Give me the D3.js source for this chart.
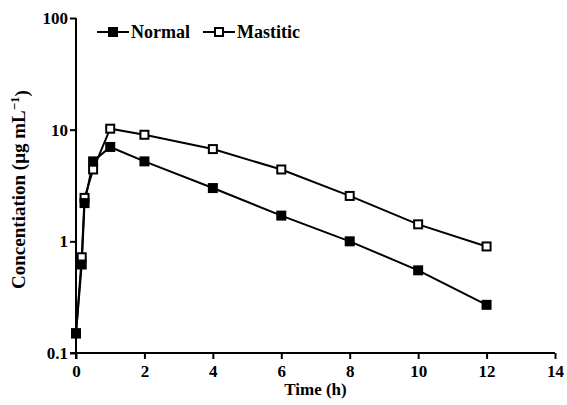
<!DOCTYPE html>
<html>
<head>
<meta charset="utf-8">
<script src="https://cdn.jsdelivr.net/npm/d3@7"></script>
<style>
  body { margin: 0; background: #fff; }
  text { font-family: "Liberation Serif", "Times New Roman", serif; font-weight: bold; }
</style>
</head>
<body>
<div id="chart"></div>
<script>
// values
var times = [0, 0.167, 0.25, 0.5, 1, 2, 4, 6, 8, 10, 12];
var normal = [0.15, 0.62, 2.2, 5.2, 7.0, 5.2, 3.0, 1.7, 1.0, 0.55, 0.27];
var mastitic = [0.15, 0.72, 2.45, 4.4, 10.2, 9.0, 6.7, 4.4, 2.55, 1.42, 0.9];
var xTicks = [0, 2, 4, 6, 8, 10, 12, 14];
var yTicks = [0.1, 1, 10, 100];
var seriesNames = ["Normal", "Mastitic"];

var width = 567, height = 405;
var margin = { top: 18, right: 12, bottom: 52, left: 76 };

var svg = d3.select("#chart")
  .append("svg")
  .attr("width", width)
  .attr("height", height);

var x = d3.scaleLinear()
  .domain([0, 14])
  .range([margin.left, width - margin.right]);

var y = d3.scaleLog()
  .domain([0.1, 100])
  .range([height - margin.bottom, margin.top]);

// axes
var xAxis = svg.append("g")
  .attr("transform", "translate(0," + (height - margin.bottom) + ")")
  .call(d3.axisBottom(x).tickValues(xTicks).tickFormat(d3.format("d")).tickSize(6).tickSizeOuter(0));

var yAxis = svg.append("g")
  .attr("transform", "translate(" + margin.left + ",0)")
  .call(d3.axisLeft(y).tickValues(yTicks).tickFormat(function (d) { return d < 1 ? "0.1" : d3.format("d")(d); }).tickSize(6).tickSizeOuter(0));

[xAxis, yAxis].forEach(function (g) {
  g.select(".domain").attr("stroke", "#000").attr("stroke-width", 2);
  g.selectAll(".tick line").attr("stroke", "#000").attr("stroke-width", 2);
  g.selectAll(".tick text").attr("fill", "#000").style("font-size", "17px")
    .style("font-family", "'Liberation Serif', serif").style("font-weight", "bold");
});
xAxis.selectAll(".tick text").attr("dy", "0.9em");
yAxis.selectAll(".tick text").attr("x", -8);
// y axis line extends slightly below x axis
yAxis.select(".domain").attr("d", "M0," + (height - margin.bottom + 6) + "V" + margin.top);
xAxis.select(".domain").attr("d", "M" + (margin.left - 6) + ",0H" + (width - margin.right));

// axis titles
svg.append("text")
  .attr("x", (margin.left + width - margin.right) / 2)
  .attr("y", height - 10)
  .attr("text-anchor", "middle")
  .style("font-size", "17px")
  .text("Time (h)");

var yl = svg.append("text")
  .attr("transform", "translate(25," + ((margin.top + height - margin.bottom) / 2 + 4) + ") rotate(-90)")
  .attr("text-anchor", "middle")
  .style("font-size", "19px");
yl.append("tspan").text("Concentiation (\u03bcg mL");
yl.append("tspan").attr("dy", "-0.5em").style("font-size", "13px").text("\u22121");
yl.append("tspan").attr("dy", "0.5em").text(")");

var line = d3.line()
  .x(function (d) { return x(d.t); })
  .y(function (d) { return y(d.v); });

function pts(vals) {
  return times.map(function (t, i) { return { t: t, v: vals[i] }; });
}

var sq = 10;

// mastitic (open squares)
svg.append("path")
  .datum(pts(mastitic))
  .attr("fill", "none")
  .attr("stroke", "#000")
  .attr("stroke-width", 2)
  .attr("d", line);

// normal (filled squares)
svg.append("path")
  .datum(pts(normal))
  .attr("fill", "none")
  .attr("stroke", "#000")
  .attr("stroke-width", 2)
  .attr("d", line);

svg.selectAll(".mast")
  .data(pts(mastitic))
  .enter().append("rect")
  .attr("class", "mast")
  .attr("x", function (d) { return x(d.t) - (sq - 2) / 2; })
  .attr("y", function (d) { return y(d.v) - (sq - 2) / 2; })
  .attr("width", sq - 2)
  .attr("height", sq - 2)
  .attr("fill", "#fff")
  .attr("stroke", "#000")
  .attr("stroke-width", 2);

svg.selectAll(".norm")
  .data(pts(normal))
  .enter().append("rect")
  .attr("class", "norm")
  .attr("x", function (d) { return x(d.t) - sq / 2; })
  .attr("y", function (d) { return y(d.v) - sq / 2; })
  .attr("width", sq)
  .attr("height", sq)
  .attr("fill", "#000");

// legend
var legend = svg.append("g").attr("transform", "translate(97,32)");
seriesNames.forEach(function (name, i) {
  var gx = i === 0 ? 0 : 106;
  var g = legend.append("g").attr("transform", "translate(" + gx + ",0)");
  g.append("line").attr("x1", 0).attr("x2", 32).attr("y1", 0).attr("y2", 0)
    .attr("stroke", "#000").attr("stroke-width", 2);
  if (i === 0) {
    g.append("rect").attr("x", 16 - sq / 2).attr("y", -sq / 2).attr("width", sq).attr("height", sq).attr("fill", "#000");
  } else {
    g.append("rect").attr("x", 16 - (sq - 2) / 2).attr("y", -(sq - 2) / 2).attr("width", sq - 2).attr("height", sq - 2)
      .attr("fill", "#fff").attr("stroke", "#000").attr("stroke-width", 2);
  }
  g.append("text").attr("x", 34).attr("y", 6).style("font-size", "18px").text(name);
});
</script>
</body>
</html>
